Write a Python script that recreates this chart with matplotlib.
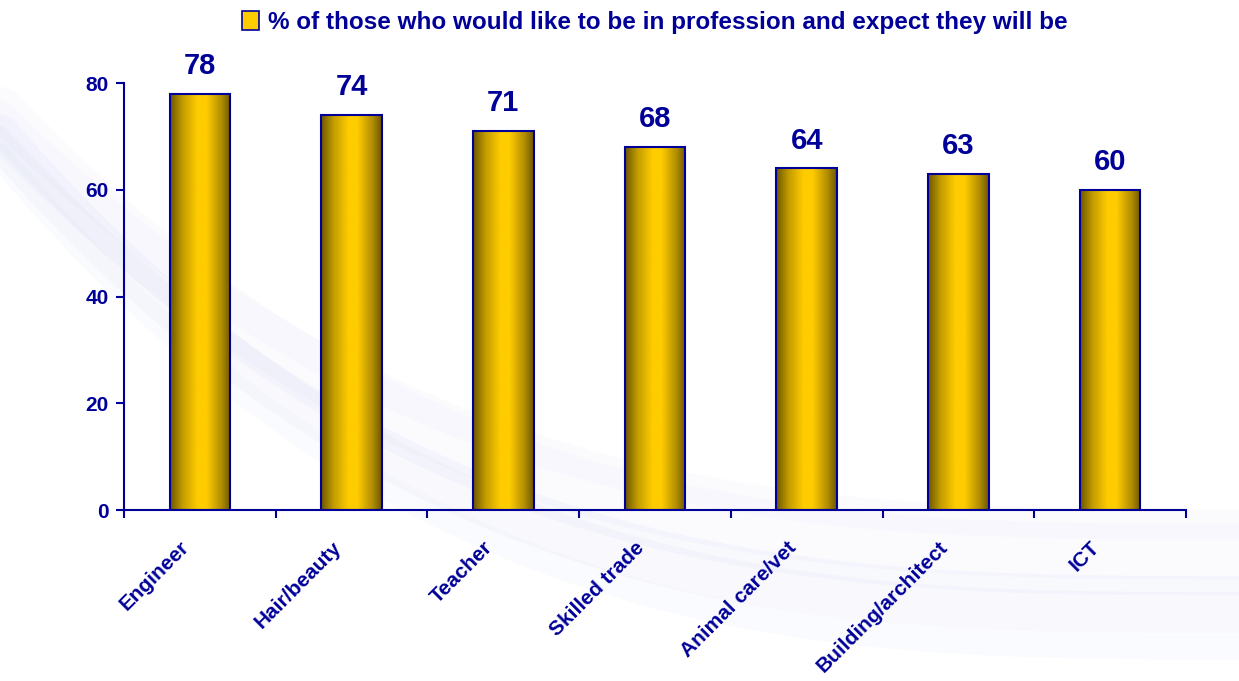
import numpy as np
import matplotlib.pyplot as plt
import matplotlib.transforms as mtransforms
from matplotlib.colors import LinearSegmentedColormap

plt.rcParams['font.family'] = ['Liberation Sans', 'DejaVu Sans']

professions = ['Engineer', 'Hair/beauty', 'Teacher', 'Skilled trade',
               'Animal care/vet', 'Building/architect', 'ICT']
pct_expect = [78, 74, 71, 68, 64, 63, 60]
y_ticks = [0, 20, 40, 60, 80]
series_label = '% of those who would like to be in profession and expect they will be'

navy = '#000099'
gold = LinearSegmentedColormap.from_list(
    'gold', [(0, '#6b5600'), (0.2, '#c09a00'), (0.45, '#ffcc00'),
             (0.6, '#ffcc00'), (0.85, '#b08c00'), (1, '#6b5600')])

fig = plt.figure(figsize=(12.39, 6.81), dpi=100)

# very faint swooshes in the background
bg = fig.add_axes([0, 0, 1, 1], zorder=0)
bg.set_xlim(0, 1)
bg.set_ylim(0, 1)
bg.axis('off')
xs = np.linspace(-0.02, 1.02, 300)
for off, amp, lw, a in [(0.00, 0.70, 30, 0.08), (0.04, 0.66, 14, 0.09),
                        (0.09, 0.64, 40, 0.05), (-0.05, 0.72, 18, 0.06),
                        (0.13, 0.60, 22, 0.05)]:
    ys = 0.10 + off + amp * (1 - xs) ** 3
    bg.plot(xs, ys, color='#b8bef0', lw=lw, alpha=a, solid_capstyle='round')

ax = fig.add_axes([0.1001, 0.2511, 0.8571, 0.627], zorder=1)
ax.patch.set_alpha(0)

x = np.arange(len(professions))
bars = ax.bar(x, pct_expect, width=0.4, facecolor='none', edgecolor=navy,
              linewidth=1.5, zorder=3)
grad = np.linspace(0, 1, 256).reshape(1, -1)
for b in bars:
    im = ax.imshow(grad, cmap=gold, aspect='auto', zorder=2,
                   extent=[b.get_x(), b.get_x() + b.get_width(), 0, b.get_height()])
    im.set_clip_path(b)

for xi, v in zip(x, pct_expect):
    ax.text(xi, v + 2.6, str(v), ha='center', va='bottom', fontsize=21,
            fontweight='bold', color=navy)

ax.set_xlim(-0.5, len(professions) - 0.5)
ax.set_ylim(0, 80)
ax.set_yticks(y_ticks)
ax.set_yticklabels([str(v) for v in y_ticks], fontsize=15, fontweight='bold', color=navy)
ax.set_xticks(x)
ax.set_xticklabels(professions, rotation=45, ha='right', rotation_mode='anchor',
                   fontsize=15, fontweight='bold', color=navy)
ax.tick_params(axis='x', length=0, pad=20)
# nudge the slanted labels a little to the left
shift = mtransforms.ScaledTranslation(-0.2, 0.0, fig.dpi_scale_trans)
for lbl in ax.get_xticklabels():
    lbl.set_transform(lbl.get_transform() + shift)
ax.set_xticks(np.arange(len(professions) + 1) - 0.5, minor=True)
ax.tick_params(axis='x', which='minor', length=6, color=navy, width=1.5)
ax.tick_params(axis='y', length=6, color=navy, width=1.5, pad=5)
for s in ['top', 'right']:
    ax.spines[s].set_visible(False)
for s in ['left', 'bottom']:
    ax.spines[s].set_color(navy)
    ax.spines[s].set_linewidth(1.5)

# legend box at the top
leg = ax.legend([plt.Rectangle((0, 0), 1, 1, facecolor='#ffcc00', edgecolor=navy, lw=1.2)],
                [series_label], loc='lower center', bbox_to_anchor=(0.5, 1.075),
                frameon=False, handlelength=0.7, handleheight=0.8, handletextpad=0.35,
                borderpad=0.2, prop={'weight': 'bold', 'size': 17.5})
for txt in leg.get_texts():
    txt.set_color(navy)

fig.savefig('out.png', dpi=100)
